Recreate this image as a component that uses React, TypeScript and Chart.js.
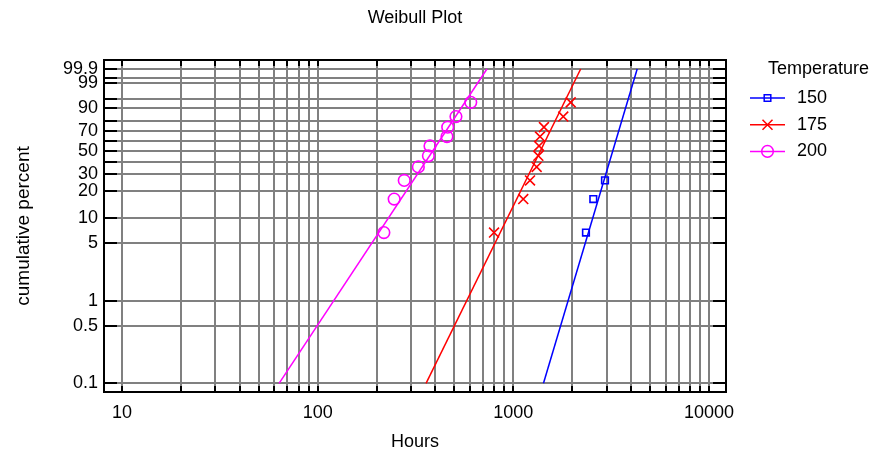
import React, { useEffect, useRef } from 'react';
import { Chart, registerables } from 'chart.js';

Chart.register(...registerables);

// ---- data ----
const chartTitle = 'Weibull Plot';
const legendTitle = 'Temperature';
const xTitle = 'Hours';
const yTitle = 'cumulative percent';

const seriesNames = ['150', '175', '200'];
const seriesColors = ['#0000ff', '#ff0000', '#ff00ff'];
const seriesMarkers = ['rect', 'crossRot', 'circle'];

const hours150 = [2351, 2563, 2941];
const pct150 = [6.7, 16.3, 26.0];
const hours175 = [797, 1124, 1217, 1316, 1342, 1353, 1369, 1434, 1800, 1964];
const pct175 = [6.7, 16.3, 26.0, 35.6, 45.2, 54.8, 64.4, 74.0, 83.7, 93.3];
const hours200 = [218, 246, 277, 327, 368, 375, 458, 462, 509, 606];
const pct200 = [6.7, 16.3, 26.0, 35.6, 45.2, 54.8, 64.4, 74.0, 83.7, 93.3];

// fitted lines: hours at 0.1 % and 99.9 %
const fitPct = [0.1, 99.9];
const fitHours150 = [1426, 4296];
const fitHours175 = [358, 2209];
const fitHours200 = [63.5, 733];

const xMin = 8.09;
const xMax = 12217;
const xGridValues = [
  10, 20, 30, 40, 50, 60, 70, 80, 90,
  100, 200, 300, 400, 500, 600, 700, 800, 900,
  1000, 2000, 3000, 4000, 5000, 6000, 7000, 8000, 9000,
  10000,
];
const xTickLabels = ['10', '100', '1000', '10000'];

const yMinPct = -7.152; // in Weibull-transformed units
const yMaxPct = 2.186;
const yGridPercents = [0.1, 0.5, 1, 5, 10, 20, 30, 40, 50, 60, 70, 80, 90, 95, 99, 99.5, 99.9];
const yTickLabels = ['0.1', '0.5', '1', '5', '10', '20', '30', '50', '70', '90', '99', '99.9'];

// ---- helpers ----
const wt = (p: number) => Math.log(-Math.log(1 - p / 100));
const FONT = '"Liberation Sans", Arial, sans-serif';

const seriesHours = [hours150, hours175, hours200];
const seriesPct = [pct150, pct175, pct200];
const seriesFitHours = [fitHours150, fitHours175, fitHours200];
const markerRadius: Record<string, number> = { rect: 4.7, crossRot: 7, circle: 5.8 };

function drawMarker(ctx: CanvasRenderingContext2D, style: string, x: number, y: number) {
  ctx.beginPath();
  if (style === 'rect') {
    const s = 3.3;
    ctx.rect(x - s, y - s, 2 * s, 2 * s);
  } else if (style === 'crossRot') {
    const s = 5;
    ctx.moveTo(x - s, y - s);
    ctx.lineTo(x + s, y + s);
    ctx.moveTo(x + s, y - s);
    ctx.lineTo(x - s, y + s);
  } else {
    ctx.arc(x, y, 5.8, 0, Math.PI * 2);
  }
  ctx.stroke();
}

const framePlugin = {
  id: 'frame',
  beforeDatasetsDraw(chart: any) {
    const { ctx, chartArea: a, scales } = chart;
    const xs = scales.x;
    const ys = scales.y;
    ctx.save();
    ctx.strokeStyle = '#000';
    ctx.lineWidth = 2;
    ctx.beginPath();
    xs.ticks.forEach((t: any) => {
      const px = Math.round(xs.getPixelForValue(t.value));
      ctx.moveTo(px, a.bottom);
      ctx.lineTo(px, a.bottom - 6);
      ctx.moveTo(px, a.top);
      ctx.lineTo(px, a.top + 6);
    });
    ys.ticks.forEach((t: any) => {
      const py = Math.round(ys.getPixelForValue(t.value));
      ctx.moveTo(a.left, py);
      ctx.lineTo(a.left + 13, py);
      ctx.moveTo(a.right, py);
      ctx.lineTo(a.right - 13, py);
    });
    ctx.stroke();
    ctx.strokeRect(a.left, a.top, a.right - a.left, a.bottom - a.top);
    ctx.restore();
  },
  afterDraw(chart: any) {
    const { ctx, chartArea: a } = chart;
    ctx.save();
    ctx.fillStyle = '#000';
    ctx.font = `18px ${FONT}`;
    ctx.textBaseline = 'middle';
    ctx.textAlign = 'center';
    ctx.fillText(chartTitle, (a.left + a.right) / 2, 18);
    ctx.textAlign = 'left';
    ctx.fillText(legendTitle, a.right + 42, 69);
    seriesNames.forEach((name, i) => {
      const yy = 98 + i * 26.7;
      const lx0 = a.right + 24;
      const lx1 = a.right + 59;
      ctx.strokeStyle = seriesColors[i];
      ctx.lineWidth = 1.5;
      ctx.beginPath();
      ctx.moveTo(lx0, yy);
      ctx.lineTo(lx1, yy);
      ctx.stroke();
      drawMarker(ctx, seriesMarkers[i], (lx0 + lx1) / 2, yy);
      ctx.fillStyle = '#000';
      ctx.fillText(name, a.right + 71, yy);
    });
    ctx.restore();
  },
};

export default function App() {
  const ref = useRef<HTMLCanvasElement>(null);

  useEffect(() => {
    if (!ref.current) return;
    const datasets: any[] = [];
    seriesNames.forEach((name, i) => {
      datasets.push({
        label: name + ' points',
        data: seriesHours[i].map((h, j) => ({ x: h, y: wt(seriesPct[i][j]) })),
        showLine: false,
        pointStyle: seriesMarkers[i],
        pointRadius: markerRadius[seriesMarkers[i]],
        pointBorderWidth: 1.6,
        borderColor: seriesColors[i],
        backgroundColor: 'rgba(0,0,0,0)',
      });
      datasets.push({
        label: name + ' fit',
        data: seriesFitHours[i].map((h, j) => ({ x: h, y: wt(fitPct[j]) })),
        showLine: true,
        pointRadius: 0,
        borderWidth: 1.5,
        borderColor: seriesColors[i],
        backgroundColor: seriesColors[i],
      });
    });

    const xLabelText = xGridValues.map((v) => (xTickLabels.includes(String(v)) ? String(v) : ''));
    const yLabelText = yGridPercents.map((p) => (yTickLabels.includes(String(p)) ? String(p) : ''));

    const chart = new Chart(ref.current, {
      type: 'scatter',
      data: { datasets },
      options: {
        animation: false,
        responsive: false,
        devicePixelRatio: 1,
        layout: { padding: { left: 0, top: 60, right: 146, bottom: 0 } },
        plugins: {
          legend: { display: false },
          tooltip: { enabled: false },
          title: { display: false },
        },
        scales: {
          x: {
            type: 'logarithmic',
            position: 'bottom',
            min: xMin,
            max: xMax,
            bounds: 'data',
            afterBuildTicks: (scale: any) => {
              scale.ticks = xGridValues.map((v) => ({ value: v }));
            },
            afterFit: (scale: any) => {
              scale.height = 61;
            },
            ticks: {
              autoSkip: false,
              maxRotation: 0,
              minRotation: 0,
              padding: 10,
              color: '#000',
              font: { family: FONT, size: 18 },
              callback: (_v: any, idx: number) => xLabelText[idx],
            },
            grid: { color: '#808080', lineWidth: 2, drawTicks: false },
            border: { display: false },
            title: {
              display: true,
              text: xTitle,
              color: '#000',
              font: { family: FONT, size: 18 },
              padding: { top: 0, bottom: 0 },
            },
          },
          y: {
            type: 'linear',
            position: 'left',
            min: yMinPct,
            max: yMaxPct,
            bounds: 'data',
            afterBuildTicks: (scale: any) => {
              scale.ticks = yGridPercents.map((p) => ({ value: wt(p) }));
            },
            afterFit: (scale: any) => {
              scale.width = 104;
            },
            ticks: {
              autoSkip: false,
              padding: 6,
              color: '#000',
              font: { family: FONT, size: 18 },
              callback: (_v: any, idx: number) => yLabelText[idx],
            },
            grid: { color: '#808080', lineWidth: 2, drawTicks: false },
            border: { display: false },
            title: {
              display: true,
              text: yTitle,
              color: '#000',
              font: { family: FONT, size: 19 },
              padding: { top: 12, bottom: 0 },
            },
          },
        },
      },
      plugins: [framePlugin],
    });
    return () => chart.destroy();
  }, []);

  return (
    <div style={{ position: 'absolute', left: 0, top: 0, width: 872, height: 453 }}>
      <canvas ref={ref} width={872} height={453} style={{ display: 'block' }} />
    </div>
  );
}
